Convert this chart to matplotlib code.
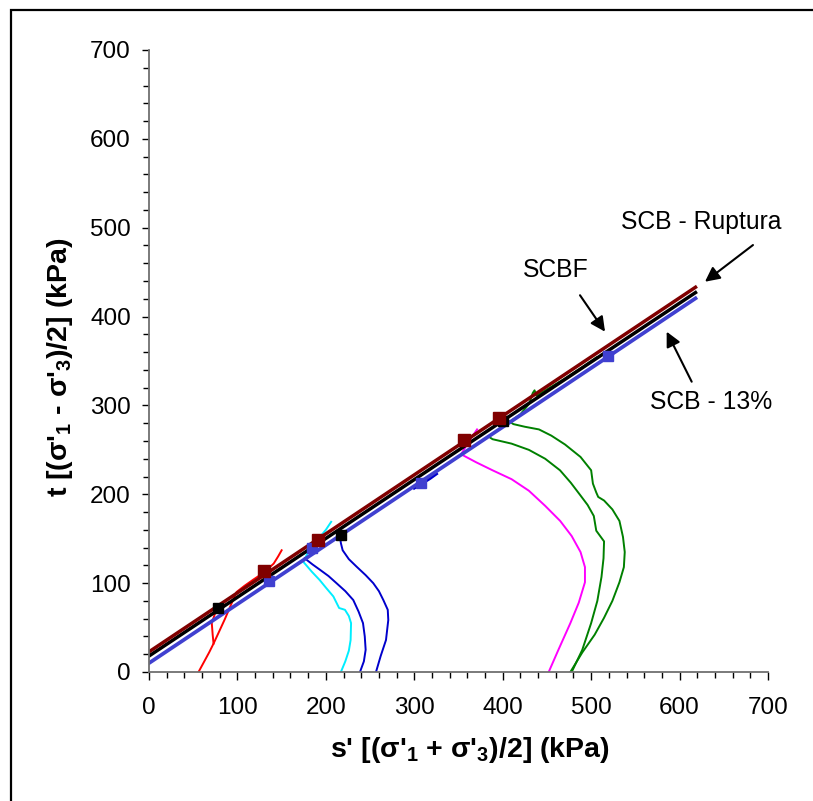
import numpy as np
import matplotlib.pyplot as plt
from matplotlib.patches import Rectangle
from matplotlib.ticker import MultipleLocator

plt.rcParams['font.family'] = ['Liberation Sans', 'DejaVu Sans']
plt.rcParams['mathtext.fontset'] = 'custom'
plt.rcParams['mathtext.rm'] = 'Liberation Sans:bold'
plt.rcParams['mathtext.default'] = 'rm'

# envelopes (s', t) - straight fits
env_s = [0, 618]
env_ruptura = [22.7, 433.0]
env_scbf = [18.0, 427.0]
env_13 = [10.0, 420.5]

# failure points
sq_ruptura_s = [130.5, 191.5, 356, 396]
sq_ruptura_t = [114, 148.6, 260.7, 286]
sq_scbf_s = [77.8, 216.8, 400]
sq_scbf_t = [72, 154, 283]
sq_13_s = [135.8, 184.5, 307.6, 518.7]
sq_13_t = [102.6, 140, 212.5, 355.6]

# stress paths
red_a_s = [56, 62, 68, 73, 80, 86, 92, 99, 108, 118, 130, 141, 146, 150]
red_a_t = [0, 11, 22, 32, 47, 60, 74, 90, 97, 104, 112, 122, 130, 137]
red_b_s = [73, 72, 71, 74, 78]
red_b_t = [32, 42, 55, 64, 72]

cyan_s = [217, 222, 226, 228, 228.5, 226, 221.6, 215, 212, 208.5, 200, 193, 184, 174.5, 180, 190, 200, 206]
cyan_t = [0, 12, 24, 36, 55, 63, 70, 72, 78, 85, 95, 103.5, 113, 124, 135, 148, 160, 169]

blue1_s = [238.6, 243, 245, 244, 242, 237, 231, 222, 212, 203, 193.4, 185, 176]
blue1_t = [0, 12, 25, 40, 55, 68, 81, 91, 100, 108, 115, 121, 128]

blue2_s = [256.7, 262, 268, 270.6, 270, 265, 260, 253.6, 245, 234.8, 226, 219, 217, 216]
blue2_t = [0, 18, 36, 58.5, 70, 81, 91, 100, 109, 118.5, 127, 137, 145, 152]

blue3_s = [300, 310, 318, 325]
blue3_t = [207, 213, 218, 223]

mag_s = [452, 463, 476.5, 486, 493, 493, 488, 478, 465, 448, 429.6, 410, 388.5, 370, 353, 362, 371]
mag_t = [0, 25, 55, 78, 101, 118, 135, 153, 170, 187, 204, 217, 227, 236, 245, 260, 273]

green1_s = [476.5, 490, 504, 514.6, 524, 532, 537, 538, 536, 532, 524, 514.6, 508, 505.8, 502, 500, 488, 470.5, 455, 441, 425, 412, 403]
green1_t = [0, 22, 42, 61, 80, 101, 118, 135, 152, 170, 183, 193, 197, 202, 212, 227, 242, 256, 266, 273, 276, 279, 285]

green2_s = [478, 490, 500, 507, 511.7, 514, 514.6, 505.8, 503, 496, 488, 477, 464.8, 448, 429.6, 410, 388.5, 384]
green2_t = [0, 25, 55, 80, 107, 128, 147, 159, 175.6, 188, 198.6, 213, 227, 240, 250, 257, 262, 265]

green3_s = [384, 400, 420, 430, 434, 436, 438, 450, 470, 490, 506]
green3_t = [265, 276, 290, 302, 314, 317, 311, 318, 330, 343, 354]


fig = plt.figure(figsize=(8.13, 8.01), dpi=100)
ax = fig.add_axes([149/813, 1 - 672/801, 619/813, 622/801])

# paths
ax.plot(red_a_s, red_a_t, color='#FF0000', lw=1.4)
ax.plot(red_b_s, red_b_t, color='#FF0000', lw=1.4)
ax.plot(cyan_s, cyan_t, color='#00EEFF', lw=1.4)
ax.plot(blue1_s, blue1_t, color='#0000CC', lw=1.4)
ax.plot(blue2_s, blue2_t, color='#0000CC', lw=1.4)
ax.plot(blue3_s, blue3_t, color='#0000CC', lw=2.2)
ax.plot(mag_s, mag_t, color='#FF00FF', lw=1.4)
ax.plot(green1_s, green1_t, color='#008000', lw=1.4)
ax.plot(green2_s, green2_t, color='#008000', lw=1.4)
ax.plot(green3_s, green3_t, color='#008000', lw=1.4)

# envelopes
ax.plot(env_s, env_13, color='#4040D0', lw=2.7)
ax.plot(env_s, env_scbf, color='black', lw=2.5)
ax.plot(env_s, env_ruptura, color='#800000', lw=2.5)

ax.plot(sq_13_s, sq_13_t, 's', color='#4040D0', ms=7.5, ls='none')
ax.plot(sq_scbf_s, sq_scbf_t, 's', color='black', ms=7.5, ls='none')
ax.plot(sq_ruptura_s, sq_ruptura_t, 's', color='#800000', ms=8.5, ls='none')

ax.set_xlim(0, 700)
ax.set_ylim(0, 700)
ax.xaxis.set_major_locator(MultipleLocator(100))
ax.xaxis.set_minor_locator(MultipleLocator(20))
ax.yaxis.set_major_locator(MultipleLocator(100))
ax.yaxis.set_minor_locator(MultipleLocator(20))

for side in ['top', 'right']:
    ax.spines[side].set_visible(False)
for side in ['left', 'bottom']:
    ax.spines[side].set_color('#707070')
    ax.spines[side].set_linewidth(1.3)

ax.tick_params(axis='both', which='both', direction='out', color='black', width=1.0)
ax.tick_params(axis='x', which='major', length=6, pad=12, labelsize=17.5)
ax.tick_params(axis='x', which='minor', length=4)
ax.tick_params(axis='y', which='major', length=5, pad=8, labelsize=17.5)
ax.tick_params(axis='y', which='minor', length=4)

ax.set_xlabel("s' [(σ'$_1$ + σ'$_3$)/2] (kPa)", fontsize=20.5, fontweight='bold', va='center')
ax.set_ylabel("t [(σ'$_1$ - σ'$_3$)/2] (kPa)", fontsize=20.5, fontweight='bold', va='center')
ax.xaxis.set_label_coords(0.518, -0.125)
ax.yaxis.set_label_coords(-0.143, 0.49)

arw = dict(arrowstyle='-|>', color='black', lw=1.5, mutation_scale=22, shrinkA=0, shrinkB=0)
ax.annotate('', xy=(628.7, 439.2), xytext=(683, 480.5), arrowprops=arw, annotation_clip=False)
ax.text(624, 506.7, 'SCB - Ruptura', fontsize=17.8, ha='center', va='center')
ax.annotate('', xy=(515.7, 383), xytext=(487.4, 424), arrowprops=arw)
ax.text(459.7, 452.4, 'SCBF', fontsize=17.8, ha='center', va='center')
ax.annotate('', xy=(585.4, 383), xytext=(613.7, 326.7), arrowprops=arw)
ax.text(635.5, 304.2, 'SCB - 13%', fontsize=17.8, ha='center', va='center')

fig.patches.append(Rectangle((11/813, -0.1), 1.2, 1.1 - 10/801, transform=fig.transFigure,
                             fill=False, ec='black', lw=1.6))

fig.savefig('out.png', dpi=100)
